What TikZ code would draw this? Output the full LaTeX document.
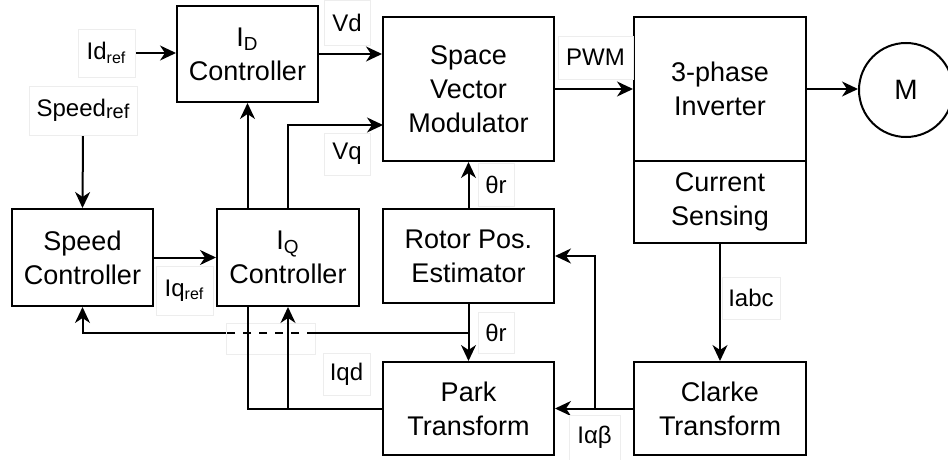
\documentclass[tikz,border=0pt]{standalone}
\usepackage{fontspec}
\setmainfont{Liberation Sans}
\usetikzlibrary{arrows.meta,backgrounds}
\begin{document}
\begin{tikzpicture}[x=0.5pt,y=-0.5pt,
 blk/.style={draw=black, line width=1pt, fill=white, align=center, inner sep=0pt, font=\fontsize{13.5}{17}\selectfont},
 lbl/.style={draw=black!7, line width=0.4pt, fill=white, inner sep=0pt, font=\fontsize{12}{14}\selectfont},
 conn/.style={line width=1pt, draw=black},
 arr/.style={conn, -{Stealth[length=8pt,width=7.5pt,inset=2.5pt]}}]
\useasboundingbox (0,0) rectangle (948,460);
% blocks
\node[blk, minimum width=70.5pt, minimum height=48pt] (idc) at (247.5,54) {I\textsubscript{D}\\Controller};
\node[blk, minimum width=85.5pt, minimum height=72pt] (svm) at (468.5,89) {Space\\Vector\\Modulator};
\node[blk, minimum width=86pt, minimum height=72pt] (inv) at (720,89) {3-phase\\Inverter};
\node[blk, minimum width=86pt, minimum height=41pt] (cs) at (720,202) {Current\\Sensing};
\node[blk, circle, minimum size=47pt, font=\fontsize{14}{16}\selectfont] (m) at (906,90) {M};
\node[blk, minimum width=70.5pt, minimum height=48.5pt] (spc) at (82.5,257.5) {Speed\\Controller};
\node[blk, minimum width=71pt, minimum height=48.5pt] (iqc) at (288,257.5) {I\textsubscript{Q}\\Controller};
\node[blk, minimum width=85.5pt, minimum height=47pt] (rpe) at (468.5,256) {Rotor Pos.\\Estimator};
\node[blk, minimum width=85.5pt, minimum height=46.5pt] (park) at (468.5,408.5) {Park\\Transform};
\node[blk, minimum width=86pt, minimum height=46.5pt] (clarke) at (720,408.5) {Clarke\\Transform};
% labels
\node[lbl, minimum width=28.5pt, minimum height=24pt] (lidref) at (106.5,53) {Id\textsubscript{ref}};
\node[lbl, minimum width=54pt, minimum height=24.5pt] (lspd) at (83,110.5) {Speed\raisebox{-0.15ex}{\fontsize{10}{12}\selectfont ref}};
\node[lbl, minimum width=23pt, minimum height=22.5pt] (lvd) at (347,22.5) {Vd};
\node[lbl, minimum width=23pt, minimum height=21pt] (lvq) at (347,154) {Vq};
\node[lbl, minimum width=37.5pt, minimum height=21.5pt] (lpwm) at (595.5,57.5) {PWM};
\node[lbl, minimum width=18pt, minimum height=21.5pt] (lth1) at (496,184.5) {θr};
\node[lbl, minimum width=18pt, minimum height=20.5pt] (lth2) at (496,332.5) {θr};
\node[lbl, minimum width=28.5pt, minimum height=24.5pt] (liqref) at (184.5,290.5) {Iq\textsubscript{ref}};
\node[lbl, minimum width=23.5pt, minimum height=21pt] (liqd) at (346.5,374) {Iqd};
\node[lbl, minimum width=25.5pt, minimum height=22.5pt] (lab) at (594.5,437.5) {Iαβ};
\node[lbl, minimum width=29pt, minimum height=21pt] (labc) at (751,298) {Iabc};
% connectors
\coordinate (svmq) at (383,125);
\coordinate (ab) at (595,408.5);
\coordinate (fb) at (468.5,333);
\coordinate (d1) at (315,333);
\coordinate (d2) at (226,333);
\begin{scope}[on background layer]
\node[lbl, minimum width=44.5pt, minimum height=15.5pt] (lx) at (270.5,338.5) {};
\draw[arr] (lidref.east) -- (lidref.east -| idc.west);
\draw[arr] (lspd.south) -- (spc.north);
\draw[arr] (idc.east) -- (idc.east -| svm.west);
\draw[arr] (iqc.north) |- (svmq);
\draw[arr] (svm.east) -- (svm.east -| inv.west);
\draw[arr] (inv.east) -- (inv.east -| m.west);
\draw[arr] (spc.east) -- (iqc.west);
\draw[arr] (rpe.north) -- (svm.south);
\draw[arr] (rpe.south) -- (park.north);
\draw[arr] (cs.south) -- (clarke.north);
\draw[arr] (clarke.west) -- (park.east);
\draw[arr] (ab) |- (rpe.east);
\draw[arr] (park.west) -| (idc.south);
\draw[arr] (park.west) -| (iqc.south);
\draw[conn] (fb) -- (d1);
\draw[conn, dash pattern=on 4pt off 4pt] (d1) -- (d2);
\draw[arr] (d2) -| (spc.south);
\end{scope}
\end{tikzpicture}
\end{document}
